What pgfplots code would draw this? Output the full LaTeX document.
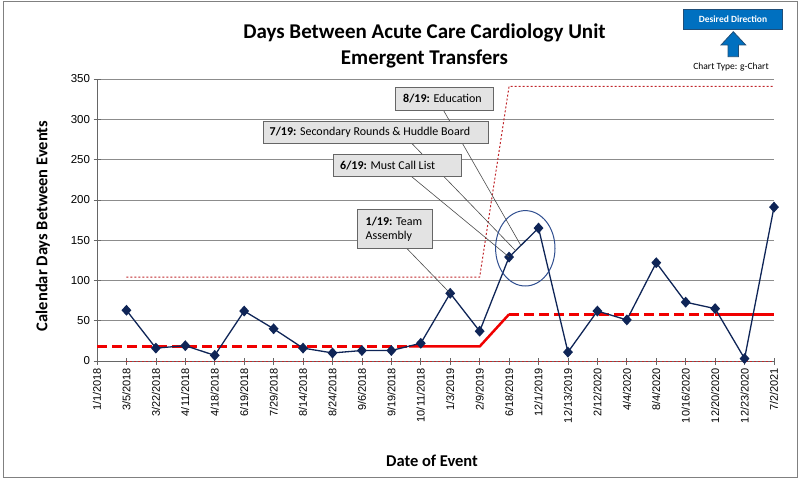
\documentclass[border=0pt]{standalone}
\usepackage{fontspec}
\setmainfont{Carlito}
\newfontfamily\tickfont{Liberation Sans}
\usepackage{pgfplots}
\pgfplotsset{compat=1.18}
\definecolor{navy}{HTML}{0F2557}
\definecolor{clred}{HTML}{F00000}
\definecolor{uclred}{HTML}{C0262B}
\definecolor{ddblue}{HTML}{0070C0}
\definecolor{ddedge}{HTML}{1F4E79}
\definecolor{boxgray}{HTML}{E3E3E3}
\definecolor{ringblue}{HTML}{2F4E8F}

\begin{document}
\begin{tikzpicture}[x=1pt,y=1pt]
\path[use as bounding box] (0,0) rectangle (800,480);
\draw[black!50, line width=1pt] (3,3) rectangle (797,478);

\begin{axis}[at={(97pt,119pt)}, anchor=south west, scale only axis,
  width=677pt, height=282pt,
  xmin=0, xmax=23, ymin=0, ymax=350,
  axis lines=left, axis line style={-, black!60, line width=0.8pt},
  clip=false,
  xtick={0,...,23},
  xticklabels={1/1/2018,3/5/2018,3/22/2018,4/11/2018,4/18/2018,6/19/2018,7/29/2018,8/14/2018,8/24/2018,9/6/2018,9/19/2018,10/11/2018,1/3/2019,2/9/2019,6/18/2019,12/1/2019,12/13/2019,2/12/2020,4/4/2020,8/4/2020,10/16/2020,12/20/2020,12/23/2020,7/2/2021},
  ytick={0,50,...,350},
  ymajorgrids, grid style={black!45, line width=0.7pt},
  tick align=center, major tick length=7pt,
  tick style={black!60, line width=0.7pt},
  /pgf/number format/assume math mode=true,
  xticklabel style={rotate=90, anchor=east, font=\tickfont\fontsize{11}{12}\selectfont},
  yticklabel style={font=\tickfont\fontsize{11.5}{12}\selectfont},
]
% upper control limit and lower limit
\addplot[uclred, line width=1pt, dash pattern=on 2pt off 2pt] coordinates {(1,104) (13,104) (14,341) (23,341)};
\addplot[uclred, line width=1pt, dash pattern=on 2pt off 2pt] coordinates {(1,0) (23,0)};
% centre line
\addplot[clred, line width=2.5pt, dash pattern=on 10pt off 5pt] coordinates {(0,18) (10.6,18)};
\addplot[clred, line width=2.5pt] coordinates {(10.6,18) (13,18) (14,58)};
\addplot[clred, line width=2.5pt, dash pattern=on 10pt off 5pt] coordinates {(14,58) (21,58)};
\addplot[clred, line width=2.5pt] coordinates {(21,58) (23,58)};
% days between events
\addplot[navy, line width=1.3pt, mark=diamond*, mark size=4.5pt, mark options={solid, fill=navy, xscale=1.2}] coordinates {
(1,63) (2,16) (3,19) (4,7) (5,62) (6,40) (7,16) (8,10) (9,13) (10,13) (11,22) (12,84)
(13,37) (14,129) (15,165) (16,11) (17,62) (18,51) (19,122) (20,73) (21,65) (22,3) (23,191)};
\coordinate (p12) at (axis cs:12,84);
\coordinate (p14) at (axis cs:14,129);
\coordinate (eA) at (axis cs:14.4,143.4);
\coordinate (eB) at (axis cs:14.22,137);
\end{axis}

% callout lines
\draw[black!70, line width=0.6pt] (443.3,370) -- (eA);
\draw[black!70, line width=0.6pt] (411.7,336.7) -- (eB);
\draw[black!70, line width=0.6pt] (411.7,303.3) -- (p14);
\draw[black!70, line width=0.6pt] (406.7,231.7) -- (p12);

% callout boxes
\tikzset{cbox/.style={fill=boxgray, draw=black!60, line width=0.8pt}}
\tikzset{ctext/.style={anchor=west, inner sep=0pt, font=\fontsize{12}{14}\selectfont}}
\draw[cbox] (395.7,370) rectangle (493,392.3);
\node[ctext] at (403,381.2) {\textbf{8/19:} Education};
\draw[cbox] (263,336.7) rectangle (488,359);
\node[ctext] at (269.5,347.8) {\textbf{7/19:} Secondary Rounds \& Huddle Board};
\draw[cbox] (333,303.3) rectangle (461.7,326);
\node[ctext] at (340,314.7) {\textbf{6/19:} Must Call List};
\draw[cbox] (357.7,231.7) rectangle (432.3,271);
\node[ctext] at (365.5,258.3) {\textbf{1/19:} Team};
\node[ctext] at (365.5,244) {Assembly};

\draw[ringblue, line width=1pt] (525.3,231.7) ellipse [x radius=29.7, y radius=37.7];

% titles and labels
\node[font=\bfseries\fontsize{21}{26}\selectfont, align=center] at (424.5,434) {Days Between Acute Care Cardiology Unit\\Emergent Transfers};
\node[font=\bfseries\fontsize{16.5}{18}\selectfont] at (432,19) {Date of Event};
\node[font=\bfseries\fontsize{16.5}{18}\selectfont, rotate=90] at (43,254) {Calendar Days Between Events};

% desired direction
\draw[fill=ddblue, draw=ddedge, line width=0.8pt] (683.3,450.7) rectangle (782.7,470.7);
\node[text=white, font=\bfseries\fontsize{9.5}{11}\selectfont] at (733,460.7) {Desired Direction};
\draw[fill=ddblue, draw=ddedge, line width=0.8pt] (733.3,448.3) -- (745.7,435) -- (738.5,435) -- (738.5,423.3) -- (728,423.3) -- (728,435) -- (721,435) -- cycle;
\node[font=\fontsize{9.5}{11}\selectfont] at (731,413.3) {Chart Type: g-Chart};
\end{tikzpicture}
\end{document}
